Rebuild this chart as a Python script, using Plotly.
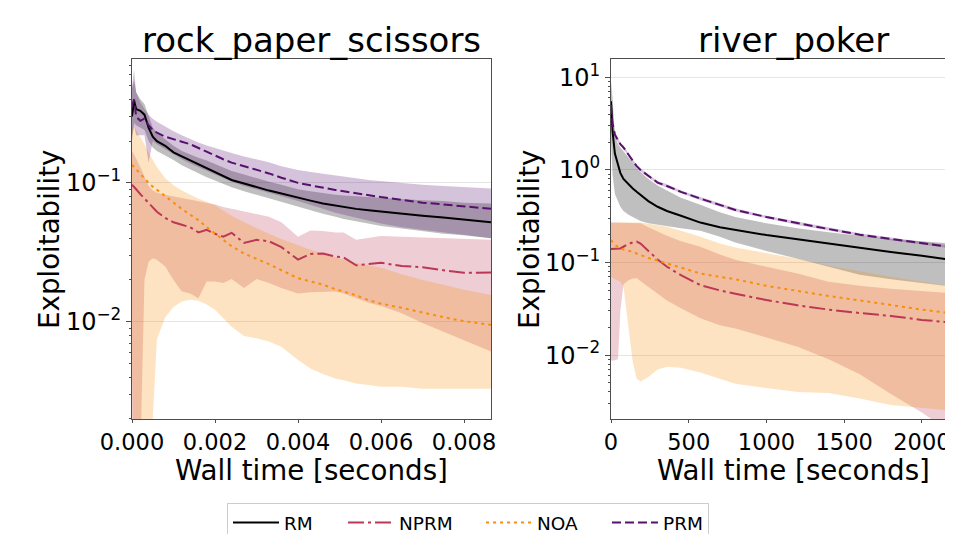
import plotly.graph_objects as go

W, H = 953, 534

# ---------------- rock_paper_scissors (wall time in seconds) ----------------
rps_time = [0, 0.00005, 0.0001, 0.0002, 0.0003, 0.0004, 0.0005, 0.0006, 0.0008, 0.001,
            0.0012, 0.0014, 0.0016, 0.0018, 0.002, 0.0022, 0.0024, 0.0027, 0.003, 0.0033,
            0.0036, 0.004, 0.0043, 0.0046, 0.0049, 0.0051, 0.0054, 0.0057, 0.006, 0.0065,
            0.007, 0.0075, 0.008, 0.00865]

rps_rm = [0.30, 0.39, 0.34, 0.33, 0.31, 0.25, 0.215, 0.20, 0.185, 0.166,
          0.155, 0.145, 0.136, 0.128, 0.12, 0.112, 0.105, 0.099, 0.093, 0.088,
          0.084, 0.078, 0.0745, 0.071, 0.0685, 0.067, 0.065, 0.0635, 0.062, 0.0598,
          0.0579, 0.0563, 0.0545, 0.0521]
rps_rm_hi = [0.48, 0.55, 0.45, 0.40, 0.37, 0.30, 0.25, 0.23, 0.205, 0.185,
             0.17, 0.16, 0.152, 0.145, 0.137, 0.13, 0.122, 0.115, 0.108, 0.102,
             0.097, 0.09, 0.087, 0.084, 0.082, 0.081, 0.08, 0.079, 0.078, 0.076,
             0.075, 0.074, 0.072, 0.071]
rps_rm_lo = [0.20, 0.27, 0.26, 0.25, 0.24, 0.20, 0.18, 0.17, 0.158, 0.146,
             0.134, 0.125, 0.117, 0.11, 0.104, 0.098, 0.093, 0.087, 0.082, 0.077,
             0.073, 0.067, 0.063, 0.06, 0.057, 0.055, 0.053, 0.051, 0.049, 0.047,
             0.045, 0.043, 0.042, 0.040]

rps_nprm = [0.097, 0.094, 0.09, 0.083, 0.077, 0.071, 0.066, 0.062, 0.056, 0.052,
            0.05, 0.048, 0.044, 0.046, 0.043, 0.041, 0.0437, 0.037, 0.0389, 0.038,
            0.0345, 0.028, 0.0308, 0.031, 0.0295, 0.029, 0.0255, 0.0262, 0.0266, 0.0252,
            0.0247, 0.0235, 0.0225, 0.0226]
rps_nprm_hi = [0.17, 0.16, 0.15, 0.13, 0.11, 0.095, 0.088, 0.085, 0.082, 0.08,
               0.078, 0.076, 0.074, 0.072, 0.07, 0.067, 0.065, 0.062, 0.059, 0.057,
               0.052, 0.041, 0.0454, 0.045, 0.044, 0.0439, 0.0389, 0.040, 0.0415, 0.041,
               0.0405, 0.040, 0.0395, 0.039]
rps_nprm_lo = [0.001, 0.001, 0.001, 0.001, 0.02, 0.027, 0.0287, 0.028, 0.025, 0.02,
               0.0165, 0.016, 0.0148, 0.0195, 0.0195, 0.019, 0.0203, 0.0175, 0.0203, 0.019,
               0.0175, 0.016, 0.0163, 0.0165, 0.0165, 0.016, 0.0148, 0.0137, 0.013, 0.0115,
               0.0098, 0.0085, 0.0074, 0.0061]

rps_noa = [0.135, 0.13, 0.125, 0.115, 0.107, 0.1, 0.094, 0.089, 0.08, 0.072,
           0.065, 0.059, 0.054, 0.048, 0.043, 0.039, 0.035, 0.031, 0.0285, 0.026,
           0.0235, 0.0206, 0.0195, 0.0185, 0.0172, 0.0165, 0.0155, 0.0143, 0.0135, 0.0126,
           0.0116, 0.0108, 0.0101, 0.0095]
rps_noa_hi = [0.25, 0.26, 0.24, 0.215, 0.19, 0.165, 0.145, 0.13, 0.108, 0.096,
              0.088, 0.082, 0.077, 0.073, 0.069, 0.063, 0.058, 0.052, 0.047, 0.043,
              0.0395, 0.0355, 0.033, 0.031, 0.029, 0.028, 0.0265, 0.0255, 0.0245, 0.022,
              0.020, 0.0185, 0.017, 0.0156]
rps_noa_lo = [0.005, 0.0008, 0.0008, 0.0008, 0.0008, 0.0008, 0.002, 0.0075, 0.0108, 0.0128,
              0.014, 0.0144, 0.0142, 0.0133, 0.0122, 0.0105, 0.0092, 0.0079, 0.0076, 0.0072,
              0.0066, 0.0053, 0.0046, 0.0042, 0.0039, 0.0038, 0.0036, 0.0035, 0.0034, 0.0034,
              0.0033, 0.0033, 0.0033, 0.0033]

rps_prm = [0.36, 0.40, 0.30, 0.28, 0.29, 0.26, 0.24, 0.23, 0.215, 0.205,
           0.198, 0.19, 0.178, 0.167, 0.158, 0.148, 0.14, 0.132, 0.125, 0.117,
           0.109, 0.1, 0.096, 0.092, 0.089, 0.087, 0.084, 0.081, 0.079, 0.0755,
           0.072, 0.07, 0.0675, 0.065]
rps_prm_hi = [0.50, 0.65, 0.45, 0.38, 0.34, 0.31, 0.29, 0.276, 0.255, 0.235,
              0.22, 0.207, 0.195, 0.186, 0.178, 0.17, 0.164, 0.155, 0.147, 0.141,
              0.132, 0.124, 0.12, 0.117, 0.113, 0.111, 0.108, 0.105, 0.103, 0.1,
              0.097, 0.095, 0.093, 0.091]
rps_prm_lo = [0.22, 0.26, 0.22, 0.22, 0.22, 0.14, 0.2, 0.19, 0.175, 0.16,
              0.148, 0.138, 0.13, 0.122, 0.115, 0.108, 0.102, 0.095, 0.09, 0.085,
              0.08, 0.074, 0.069, 0.065, 0.061, 0.059, 0.056, 0.053, 0.051, 0.048,
              0.046, 0.044, 0.042, 0.040]

# ---------------- river_poker (wall time in seconds) ----------------
rp_time = [0, 10, 25, 45, 60, 80, 110, 140, 165, 190, 240, 300, 360, 450, 575, 700,
           800, 1000, 1200, 1400, 1600, 1800, 2000, 2200]

rp_rm = [5.5, 2.6, 1.5, 1.1, 0.93, 0.8, 0.7, 0.63, 0.58, 0.54, 0.46, 0.40, 0.36, 0.32, 0.27, 0.24,
         0.225, 0.198, 0.178, 0.16, 0.143, 0.13, 0.118, 0.106]
rp_rm_hi = [9.0, 6.0, 2.3, 1.9, 1.75, 1.6, 1.4, 1.2, 1.05, 0.95, 0.8, 0.68, 0.6, 0.5, 0.42, 0.35,
            0.31, 0.265, 0.235, 0.212, 0.195, 0.18, 0.17, 0.16]
rp_rm_lo = [2.0, 0.9, 0.55, 0.45, 0.4, 0.36, 0.33, 0.31, 0.295, 0.28, 0.265, 0.255, 0.245, 0.235, 0.22, 0.19,
            0.165, 0.133, 0.11, 0.09, 0.074, 0.066, 0.06, 0.0548]

rp_nprm = [0.14, 0.14, 0.14, 0.14, 0.142, 0.148, 0.158, 0.165, 0.168, 0.16, 0.133, 0.108, 0.09, 0.073, 0.057, 0.05,
           0.046, 0.0393, 0.0345, 0.031, 0.0285, 0.0265, 0.024, 0.0224]
rp_nprm_hi = [0.27, 0.27, 0.27, 0.27, 0.27, 0.27, 0.27, 0.27, 0.268, 0.265, 0.24, 0.215, 0.195, 0.17, 0.148, 0.122,
              0.107, 0.09, 0.076, 0.062, 0.056, 0.052, 0.049, 0.0465]
rp_nprm_lo = [0.0088, 0.0087, 0.0088, 0.009, 0.03, 0.058, 0.064, 0.067, 0.0675, 0.063, 0.0548, 0.046, 0.039, 0.032, 0.025, 0.021,
              0.0194, 0.0155, 0.0123, 0.009, 0.0062, 0.0038, 0.0024, 0.0014]

rp_noa = [0.175, 0.165, 0.155, 0.148, 0.143, 0.138, 0.134, 0.131, 0.125, 0.12, 0.112, 0.105, 0.098, 0.088, 0.076, 0.07,
          0.066, 0.056, 0.049, 0.0435, 0.039, 0.0345, 0.031, 0.0282]
rp_noa_hi = [0.27, 0.27, 0.27, 0.27, 0.27, 0.27, 0.27, 0.27, 0.27, 0.27, 0.262, 0.253, 0.244, 0.22, 0.19, 0.16,
             0.145, 0.126, 0.11, 0.092, 0.08, 0.07, 0.062, 0.055]
rp_noa_lo = [0.07, 0.068, 0.066, 0.064, 0.062, 0.055, 0.02, 0.0085, 0.0056, 0.0052, 0.0058, 0.007, 0.0075, 0.0073, 0.0065, 0.0055,
             0.0049, 0.0044, 0.004, 0.0039, 0.0034, 0.0029, 0.0027, 0.0025]

rp_prm = [5.0, 3.2, 2.4, 2.1, 1.9, 1.75, 1.5, 1.25, 1.1, 1.0, 0.86, 0.73, 0.67, 0.58, 0.49, 0.42,
          0.37, 0.31, 0.265, 0.23, 0.2, 0.18, 0.162, 0.146]
rp_prm_hi = [5.8, 3.6, 2.6, 2.2, 1.98, 1.82, 1.56, 1.3, 1.14, 1.04, 0.89, 0.76, 0.7, 0.6, 0.51, 0.435,
             0.385, 0.32, 0.275, 0.238, 0.207, 0.186, 0.168, 0.151]
rp_prm_lo = [4.2, 2.8, 2.2, 2.0, 1.82, 1.68, 1.44, 1.2, 1.06, 0.96, 0.83, 0.70, 0.645, 0.56, 0.47, 0.405,
             0.355, 0.3, 0.255, 0.222, 0.193, 0.174, 0.156, 0.141]

methods = ["RM", "NPRM", "NOA", "PRM"]
titles = ["rock_paper_scissors", "river_poker"]
rps_xticks = [0, 0.002, 0.004, 0.006, 0.008]
rps_xticklabels = ["0.000", "0.002", "0.004", "0.006", "0.008"]
rp_xticks = [0, 500, 1000, 1500, 2000]
rp_xticklabels = ["0", "500", "1000", "1500", "2000"]
rps_yticks = [0.01, 0.1]
rps_yticklabels = ["10<sup>\u22122</sup>", "10<sup>\u22121</sup>"]
rp_yticks = [0.01, 0.1, 1, 10]
rp_yticklabels = ["10<sup>\u22122</sup>", "10<sup>\u22121</sup>", "10<sup>0</sup>", "10<sup>1</sup>"]

line_colors = {"RM": "#000000", "NPRM": "#bc3754", "NOA": "#f98e09", "PRM": "#57106e"}
band_colors = {"RM": "rgba(0,0,0,0.25)", "NPRM": "rgba(188,55,84,0.25)",
               "NOA": "rgba(249,142,9,0.25)", "PRM": "rgba(87,16,110,0.25)"}
dashes = {"RM": "solid", "NPRM": "16px,4px,3px,4px", "NOA": "3px,4px", "PRM": "9px,4px"}
legend_widths = {"RM": 54, "NPRM": 77, "NOA": 65, "PRM": 40}

panels = [
    dict(x=rps_time, xa="x", ya="y",
         data={"RM": (rps_rm, rps_rm_lo, rps_rm_hi), "NPRM": (rps_nprm, rps_nprm_lo, rps_nprm_hi),
               "NOA": (rps_noa, rps_noa_lo, rps_noa_hi), "PRM": (rps_prm, rps_prm_lo, rps_prm_hi)}),
    dict(x=rp_time, xa="x2", ya="y2",
         data={"RM": (rp_rm, rp_rm_lo, rp_rm_hi), "NPRM": (rp_nprm, rp_nprm_lo, rp_nprm_hi),
               "NOA": (rp_noa, rp_noa_lo, rp_noa_hi), "PRM": (rp_prm, rp_prm_lo, rp_prm_hi)}),
]

fig = go.Figure()
for p in panels:
    for m in methods:
        mean, lo, hi = p["data"][m]
        fig.add_trace(go.Scatter(x=p["x"], y=lo, xaxis=p["xa"], yaxis=p["ya"], mode="lines",
                                 line=dict(width=0), showlegend=False, hoverinfo="skip"))
        fig.add_trace(go.Scatter(x=p["x"], y=hi, xaxis=p["xa"], yaxis=p["ya"], mode="lines",
                                 line=dict(width=0), fill="tonexty", fillcolor=band_colors[m],
                                 showlegend=False, hoverinfo="skip"))
for i, p in enumerate(panels):
    for m in methods:
        mean = p["data"][m][0]
        fig.add_trace(go.Scatter(x=p["x"], y=mean, xaxis=p["xa"], yaxis=p["ya"], mode="lines",
                                 name=m, legendwidth=legend_widths[m],
                                 line=dict(color=line_colors[m], width=2, dash=dashes[m]),
                                 showlegend=(i == 0)))

FONT = "DejaVu Sans"
AX = "#4d4d4d"
OFF = 8  # page body margin: screen position = figure position + OFF
y_top, y_bot = 59 - OFF, 419 - OFF
plot_h = y_bot - y_top


def px(v):
    return (v - OFF) / W


def py(v):
    return (y_bot - (v - OFF)) / plot_h


minor_vals = [m * 10 ** e for e in range(-3, 2) for m in range(2, 10)]

common_x = dict(showgrid=False, zeroline=False, showline=True, linecolor=AX, linewidth=1,
                ticks="outside", ticklen=3, tickcolor=AX,
                tickfont=dict(family=FONT, size=22.5, color="black"))
common_y = dict(type="log", showgrid=True, gridcolor="rgba(0,0,0,0.1)", gridwidth=1, zeroline=False,
                showline=True, linecolor=AX, linewidth=1, ticks="outside", ticklen=5, tickcolor=AX,
                tickfont=dict(family=FONT, size=24, color="black"),
                minor=dict(tickmode="array", tickvals=minor_vals, ticks="outside", ticklen=2.5,
                           tickcolor=AX, showgrid=False))

fig.update_layout(
    width=W, height=H,
    margin=dict(l=0, r=0, t=y_top, b=H - y_bot, autoexpand=False),
    plot_bgcolor="white", paper_bgcolor="white",
    font=dict(family=FONT, color="black"),
    xaxis=dict(domain=[px(132), px(491)], range=[0, 0.00865], tickvals=rps_xticks,
               ticktext=rps_xticklabels, mirror=True, anchor="y", **common_x),
    yaxis=dict(domain=[0, 1], range=[-2.70, -0.108], tickvals=rps_yticks, ticktext=rps_yticklabels,
               mirror=True, anchor="x", **common_y),
    xaxis2=dict(domain=[px(611), px(953)], range=[0, 2200], tickvals=rp_xticks, ticktext=rp_xticklabels,
                mirror=True, anchor="y2", **common_x),
    yaxis2=dict(domain=[0, 1], range=[-2.69, 1.198], tickvals=rp_yticks, ticktext=rp_yticklabels,
                mirror=False, anchor="x2", **common_y),
    legend=dict(orientation="h", x=px(227), xanchor="left", y=py(503), yanchor="top",
                traceorder="normal", itemwidth=46, bordercolor="#cccccc", borderwidth=1, bgcolor="white",
                font=dict(family=FONT, size=18.5, color="black")),
    showlegend=True,
)

ann = []
for cx, t in zip([311.5, 793], titles):
    ann.append(dict(text=t, x=px(cx), y=py(40), xref="paper", yref="paper", xanchor="center",
                    yanchor="middle", showarrow=False, font=dict(family=FONT, size=34, color="black")))
for cx in [311.5, 793]:
    ann.append(dict(text="Wall time [seconds]", x=px(cx), y=py(470), xref="paper", yref="paper",
                    xanchor="center", yanchor="middle", showarrow=False,
                    font=dict(family=FONT, size=27.7, color="black")))
for cx in [49, 529]:
    ann.append(dict(text="Exploitability", x=px(cx), y=py(239), xref="paper", yref="paper",
                    xanchor="center", yanchor="middle", textangle=-90, showarrow=False,
                    font=dict(family=FONT, size=27.7, color="black")))
fig.update_layout(annotations=ann)

fig.write_html("out.html")
